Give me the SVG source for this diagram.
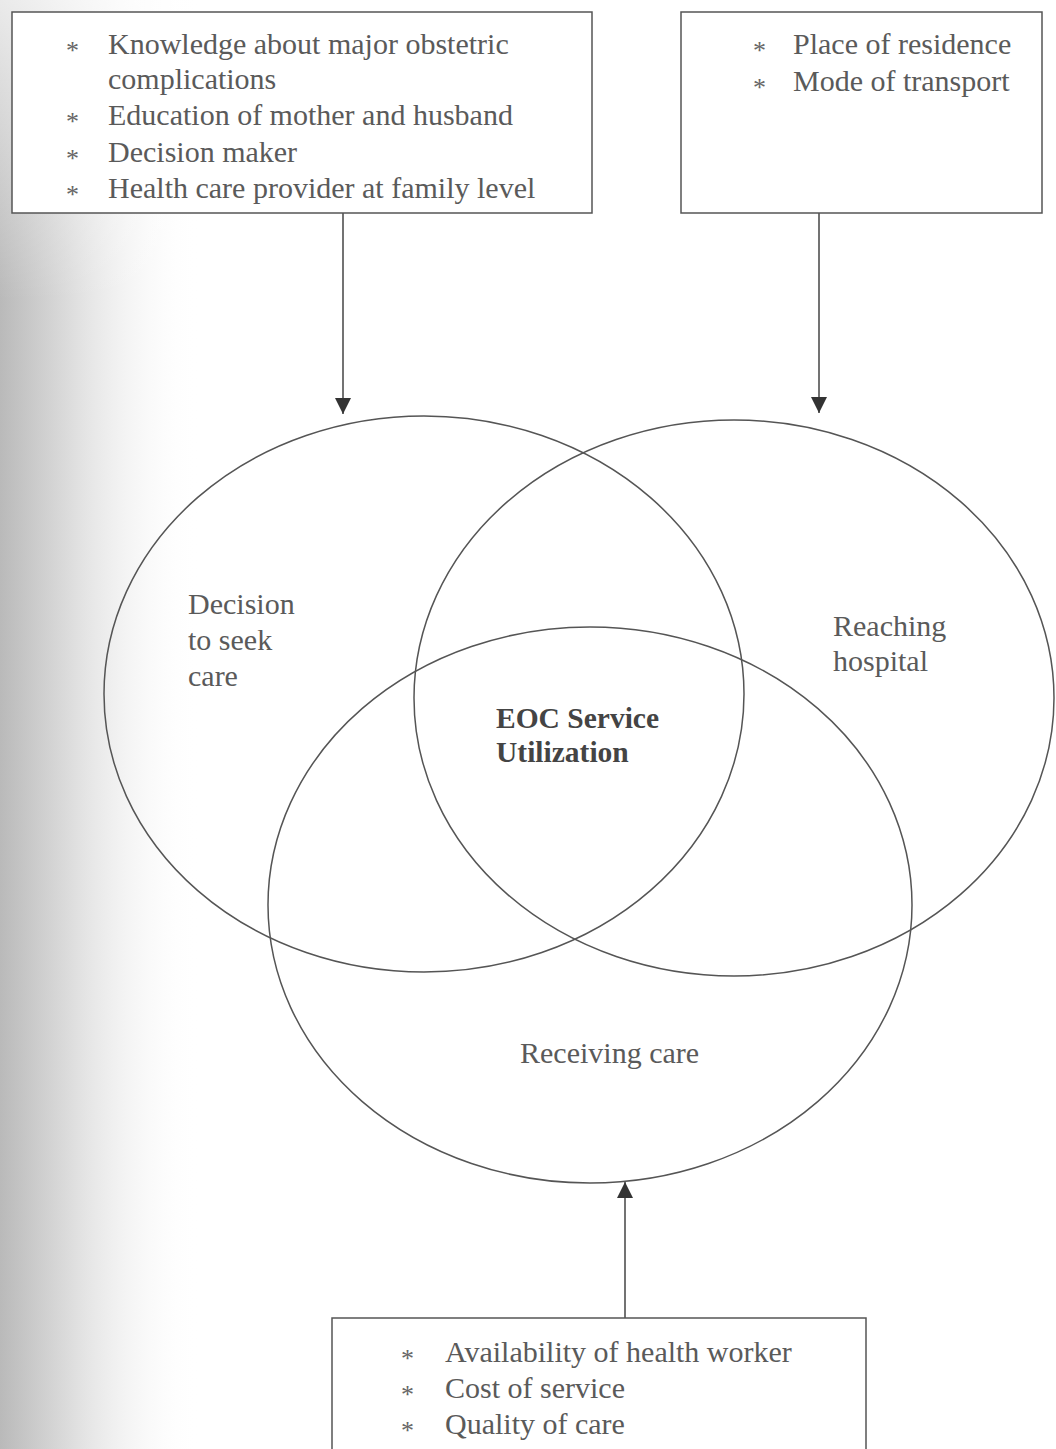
<svg xmlns="http://www.w3.org/2000/svg" width="1056" height="1449" viewBox="0 0 1056 1449">
<defs>
<linearGradient id="shade" x1="0" y1="0" x2="1" y2="0">
<stop offset="0" stop-color="#a8a8a8"/>
<stop offset="0.35" stop-color="#d4d4d4"/>
<stop offset="1" stop-color="#ffffff" stop-opacity="0"/>
</linearGradient>
<linearGradient id="fadeTop" x1="0" y1="0" x2="0" y2="1">
<stop offset="0" stop-color="#fff" stop-opacity="1"/>
<stop offset="1" stop-color="#fff" stop-opacity="0"/>
</linearGradient>
<marker id="arr" viewBox="0 0 10 10" refX="10" refY="5" markerWidth="16" markerHeight="16" markerUnits="userSpaceOnUse" orient="auto">
<path d="M0,0 L10,5 L0,10 Z" fill="#333"/>
</marker>
<style>
.box{fill:#fff;stroke:#555;stroke-width:1.5}
.ell{fill:none;stroke:#555;stroke-width:1.5}
.t{font-family:"Liberation Serif","Times New Roman",serif;font-size:30px;fill:#5a5a5a}
.s{font-family:"Liberation Serif","Times New Roman",serif;font-size:26px;fill:#666}
.b{font-family:"Liberation Serif","Times New Roman",serif;font-size:29.5px;fill:#444;font-weight:bold}
.conn{stroke:#444;stroke-width:1.5;fill:none}
</style>
</defs>
<rect width="1056" height="1449" fill="#fff"/>
<rect x="0" y="0" width="200" height="1449" fill="url(#shade)" opacity="0.8"/>
<rect x="0" y="0" width="200" height="300" fill="url(#fadeTop)" opacity="0.7"/>
<g id="connectors">
<line class="conn" x1="343" y1="213" x2="343" y2="414" marker-end="url(#arr)"/>
<line class="conn" x1="819" y1="213" x2="819" y2="413" marker-end="url(#arr)"/>
<line class="conn" x1="625" y1="1318" x2="625" y2="1182" marker-end="url(#arr)"/>
</g>
<g id="box-decision-factors">
<rect class="box" x="12" y="12" width="580" height="201"/>
<text class="s" x="66" y="59">*</text><text class="t" x="108" y="54">Knowledge about major obstetric</text>
<text class="t" x="108" y="89">complications</text>
<text class="s" x="66" y="130">*</text><text class="t" x="108" y="125">Education of mother and husband</text>
<text class="s" x="66" y="167">*</text><text class="t" x="108" y="162">Decision maker</text>
<text class="s" x="66" y="203">*</text><text class="t" x="108" y="198">Health care provider at family level</text>
</g>
<g id="box-reaching-factors">
<rect class="box" x="681" y="12" width="361" height="201"/>
<text class="s" x="753" y="59">*</text><text class="t" x="793" y="54">Place of residence</text>
<text class="s" x="753" y="96">*</text><text class="t" x="793" y="91">Mode of transport</text>
</g>
<g id="box-receiving-factors">
<rect class="box" x="332" y="1318" width="534" height="160"/>
<text class="s" x="401" y="1367">*</text><text class="t" x="445" y="1362">Availability of health worker</text>
<text class="s" x="401" y="1403">*</text><text class="t" x="445" y="1398">Cost of service</text>
<text class="s" x="401" y="1439">*</text><text class="t" x="445" y="1434">Quality of care</text>
</g>
<g id="circle-decision">
<ellipse class="ell" cx="424" cy="694" rx="320" ry="278"/>
<text class="t" x="188" y="614">Decision</text>
<text class="t" x="188" y="650">to seek</text>
<text class="t" x="188" y="686">care</text>
</g>
<g id="circle-reaching">
<ellipse class="ell" cx="734" cy="698" rx="320" ry="278"/>
<text class="t" x="833" y="636">Reaching</text>
<text class="t" x="833" y="671">hospital</text>
</g>
<g id="circle-receiving">
<ellipse class="ell" cx="590" cy="905" rx="322" ry="278"/>
<text class="t" x="520" y="1063">Receiving care</text>
</g>
<g id="center-label">
<text class="b" x="496" y="728">EOC Service</text>
<text class="b" x="496" y="762">Utilization</text>
</g>
</svg>
